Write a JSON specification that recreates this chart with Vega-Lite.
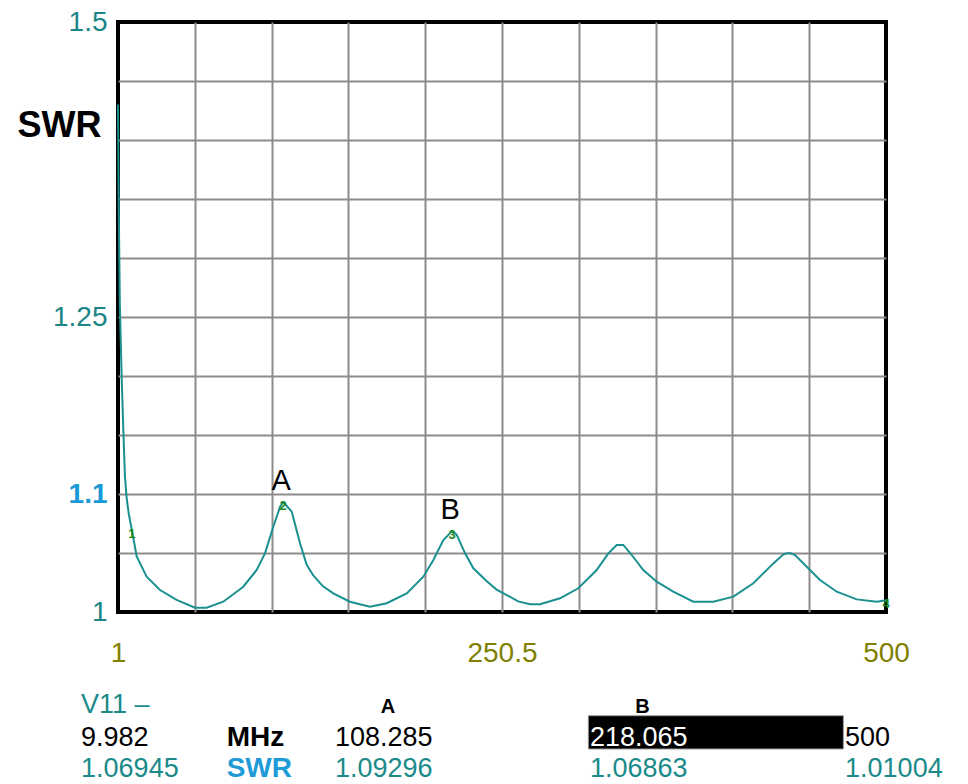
{
  "$schema": "https://vega.github.io/schema/vega-lite/v6.json",
  "width": 768,
  "height": 590,
  "autosize": {"type": "none"},
  "padding": {"left": 118, "top": 22, "right": 82, "bottom": 172},
  "background": "white",
  "config": {
    "view": {"stroke": "#000000", "strokeWidth": 4},
    "font": "Liberation Sans"
  },
  "datasets": {
    "curve": [
      {"f": 1, "swr": 1.43}, {"f": 1.5, "swr": 1.34}, {"f": 2.2, "swr": 1.26}, {"f": 3.4, "swr": 1.198},
      {"f": 4.4, "swr": 1.157}, {"f": 5.5, "swr": 1.115}, {"f": 6.6, "swr": 1.097}, {"f": 8, "swr": 1.083},
      {"f": 9.982, "swr": 1.06945}, {"f": 13.15, "swr": 1.047}, {"f": 19.6, "swr": 1.03}, {"f": 28.3, "swr": 1.0186},
      {"f": 39.1, "swr": 1.0102}, {"f": 51, "swr": 1.0036}, {"f": 58.6, "swr": 1.0036}, {"f": 69.4, "swr": 1.0087},
      {"f": 82.4, "swr": 1.0214}, {"f": 91.1, "swr": 1.0356}, {"f": 96.5, "swr": 1.0497}, {"f": 101.9, "swr": 1.0723},
      {"f": 106.3, "swr": 1.0892}, {"f": 108.285, "swr": 1.09296}, {"f": 110.5, "swr": 1.09}, {"f": 113.9, "swr": 1.085},
      {"f": 119.3, "swr": 1.058}, {"f": 123.6, "swr": 1.04}, {"f": 127.9, "swr": 1.031}, {"f": 134, "swr": 1.022},
      {"f": 140.9, "swr": 1.0158}, {"f": 151.7, "swr": 1.0087}, {"f": 164.7, "swr": 1.0045}, {"f": 175.6, "swr": 1.0074},
      {"f": 188.6, "swr": 1.0158}, {"f": 199.4, "swr": 1.0299}, {"f": 205.9, "swr": 1.0441}, {"f": 212.4, "swr": 1.061},
      {"f": 218.065, "swr": 1.06863}, {"f": 221.1, "swr": 1.0653}, {"f": 226.5, "swr": 1.0497}, {"f": 231.9, "swr": 1.037},
      {"f": 240.6, "swr": 1.026}, {"f": 247, "swr": 1.019}, {"f": 253.6, "swr": 1.0144}, {"f": 261, "swr": 1.009},
      {"f": 268.7, "swr": 1.0065}, {"f": 275.2, "swr": 1.0065}, {"f": 288.2, "swr": 1.0116}, {"f": 300.1, "swr": 1.0201},
      {"f": 312, "swr": 1.0356}, {"f": 319.6, "swr": 1.0497}, {"f": 325, "swr": 1.0568}, {"f": 329.3, "swr": 1.0568},
      {"f": 334.8, "swr": 1.0483}, {"f": 342.3, "swr": 1.0356}, {"f": 351, "swr": 1.0257}, {"f": 361.8, "swr": 1.0172},
      {"f": 374.8, "swr": 1.0087}, {"f": 387.8, "swr": 1.0087}, {"f": 400.8, "swr": 1.013}, {"f": 413.8, "swr": 1.0243},
      {"f": 426.8, "swr": 1.0412}, {"f": 433, "swr": 1.0485}, {"f": 435.5, "swr": 1.0497}, {"f": 438, "swr": 1.0497},
      {"f": 440.9, "swr": 1.0483}, {"f": 448.5, "swr": 1.0384}, {"f": 457.1, "swr": 1.0271}, {"f": 468, "swr": 1.0172},
      {"f": 481, "swr": 1.0107}, {"f": 494, "swr": 1.0087}, {"f": 500, "swr": 1.01004}
    ],
    "markers": [
      {"n": "1", "f": 9.982, "swr": 1.06945},
      {"n": "2", "f": 108.285, "swr": 1.09296},
      {"n": "3", "f": 218.065, "swr": 1.06863},
      {"n": "4", "f": 500, "swr": 1.01004}
    ],
    "peaks": [
      {"name": "A", "f": 108.285, "swr": 1.09296},
      {"name": "B", "f": 218.065, "swr": 1.06863}
    ],
    "readout": [
      {"text": "V11 –", "role": "teal", "f": -23, "swr": 0.9144},
      {"text": "A", "role": "head", "f": 176.4, "swr": 0.9144},
      {"text": "B", "role": "head", "f": 341.8, "swr": 0.9144},
      {"text": "9.982", "role": "black", "f": -23, "swr": 0.8865},
      {"text": "MHz", "role": "bold", "f": 71.6, "swr": 0.8865},
      {"text": "108.285", "role": "black", "f": 142, "swr": 0.8865},
      {"text": "218.065", "role": "inverse", "f": 307.7, "swr": 0.8865},
      {"text": "500", "role": "black", "f": 473.4, "swr": 0.8865},
      {"text": "1.06945", "role": "teal", "f": -23, "swr": 0.8605},
      {"text": "SWR", "role": "blue", "f": 71.6, "swr": 0.8605},
      {"text": "1.09296", "role": "teal", "f": 142, "swr": 0.8605},
      {"text": "1.06863", "role": "teal", "f": 307.7, "swr": 0.8605},
      {"text": "1.01004", "role": "teal", "f": 473.4, "swr": 0.8605}
    ],
    "box": [
      {"f": 306.6, "f2": 472.3, "swr": 0.9121, "swr2": 0.8839}
    ]
  },
  "encoding": {
    "x": {
      "field": "f", "type": "quantitative",
      "scale": {"domain": [1, 500], "nice": false, "zero": false},
      "axis": {
        "values": [1, 50.9, 100.8, 150.7, 200.6, 250.5, 300.4, 350.3, 400.2, 450.1, 500],
        "grid": true, "gridColor": "#8c8c8c", "gridWidth": 2,
        "gridOpacity": {"condition": {"test": "datum.value == 1 || datum.value == 500", "value": 0}, "value": 1},
        "domain": false, "ticks": false, "tickSize": 0,
        "labelExpr": "datum.value == 1 || datum.value == 250.5 || datum.value == 500 ? '' + datum.value : ''",
        "labelColor": "#808000", "labelFontSize": 28, "labelFont": "Liberation Sans",
        "labelPadding": 27, "labelBaseline": "top", "labelFlush": false, "labelOverlap": false, "labelBound": false,
        "title": null
      }
    },
    "y": {
      "field": "swr", "type": "quantitative",
      "scale": {"domain": [1, 1.5], "nice": false, "zero": false},
      "axis": {
        "values": [1, 1.05, 1.1, 1.15, 1.2, 1.25, 1.3, 1.35, 1.4, 1.45, 1.5],
        "grid": true, "gridColor": "#8c8c8c", "gridWidth": 2,
        "gridOpacity": {"condition": {"test": "datum.value == 1 || datum.value == 1.5", "value": 0}, "value": 1},
        "domain": false, "ticks": false, "tickSize": 0,
        "labelExpr": "indexof([1, 1.1, 1.25, 1.5], datum.value) >= 0 ? '' + datum.value : ''",
        "labelColor": {"condition": {"test": "datum.value == 1.1", "value": "#1a9ad6"}, "value": "#1a8585"},
        "labelFontWeight": {"condition": {"test": "datum.value == 1.1", "value": "bold"}, "value": "normal"},
        "labelFontSize": 28, "labelFont": "Liberation Sans",
        "labelPadding": 11, "labelFlush": false, "labelOverlap": false, "labelBound": false,
        "title": "SWR", "titleAngle": 0, "titleAlign": "center", "titleBaseline": "middle",
        "titleX": -59, "titleY": 103, "titleFontSize": 36, "titleFontWeight": "bold",
        "titleColor": "#000000", "titleFont": "Liberation Sans"
      }
    }
  },
  "layer": [
    {
      "data": {"name": "curve"},
      "mark": {"type": "line", "color": "#1a9090", "strokeWidth": 2}
    },
    {
      "data": {"name": "markers"},
      "mark": {"type": "text", "color": "#1a8a1a", "fontSize": 13, "fontWeight": "bold", "align": "center", "baseline": "middle", "dy": 4},
      "encoding": {"text": {"field": "n"}}
    },
    {
      "data": {"name": "peaks"},
      "mark": {"type": "text", "color": "#000000", "fontSize": 29, "align": "center", "baseline": "alphabetic", "dy": -12, "dx": -2},
      "encoding": {"text": {"field": "name"}}
    },
    {
      "data": {"name": "box"},
      "mark": {"type": "rect", "fill": "#000000", "stroke": "#999999", "strokeWidth": 1},
      "encoding": {"x2": {"field": "f2"}, "y2": {"field": "swr2"}}
    },
    {
      "data": {"name": "readout"},
      "transform": [{"filter": "datum.role == 'teal'"}],
      "mark": {"type": "text", "color": "#1a8a8a", "fontSize": 27, "align": "left", "baseline": "alphabetic"},
      "encoding": {"text": {"field": "text"}}
    },
    {
      "data": {"name": "readout"},
      "transform": [{"filter": "datum.role == 'black'"}],
      "mark": {"type": "text", "color": "#000000", "fontSize": 27, "align": "left", "baseline": "alphabetic"},
      "encoding": {"text": {"field": "text"}}
    },
    {
      "data": {"name": "readout"},
      "transform": [{"filter": "datum.role == 'inverse'"}],
      "mark": {"type": "text", "color": "#ffffff", "fontSize": 27, "align": "left", "baseline": "alphabetic"},
      "encoding": {"text": {"field": "text"}}
    },
    {
      "data": {"name": "readout"},
      "transform": [{"filter": "datum.role == 'bold'"}],
      "mark": {"type": "text", "color": "#000000", "fontSize": 28, "fontWeight": "bold", "align": "left", "baseline": "alphabetic"},
      "encoding": {"text": {"field": "text"}}
    },
    {
      "data": {"name": "readout"},
      "transform": [{"filter": "datum.role == 'blue'"}],
      "mark": {"type": "text", "color": "#1e9bd7", "fontSize": 28, "fontWeight": "bold", "align": "left", "baseline": "alphabetic"},
      "encoding": {"text": {"field": "text"}}
    },
    {
      "data": {"name": "readout"},
      "transform": [{"filter": "datum.role == 'head'"}],
      "mark": {"type": "text", "color": "#000000", "fontSize": 20, "fontWeight": "bold", "align": "center", "baseline": "alphabetic"},
      "encoding": {"text": {"field": "text"}}
    }
  ]
}
